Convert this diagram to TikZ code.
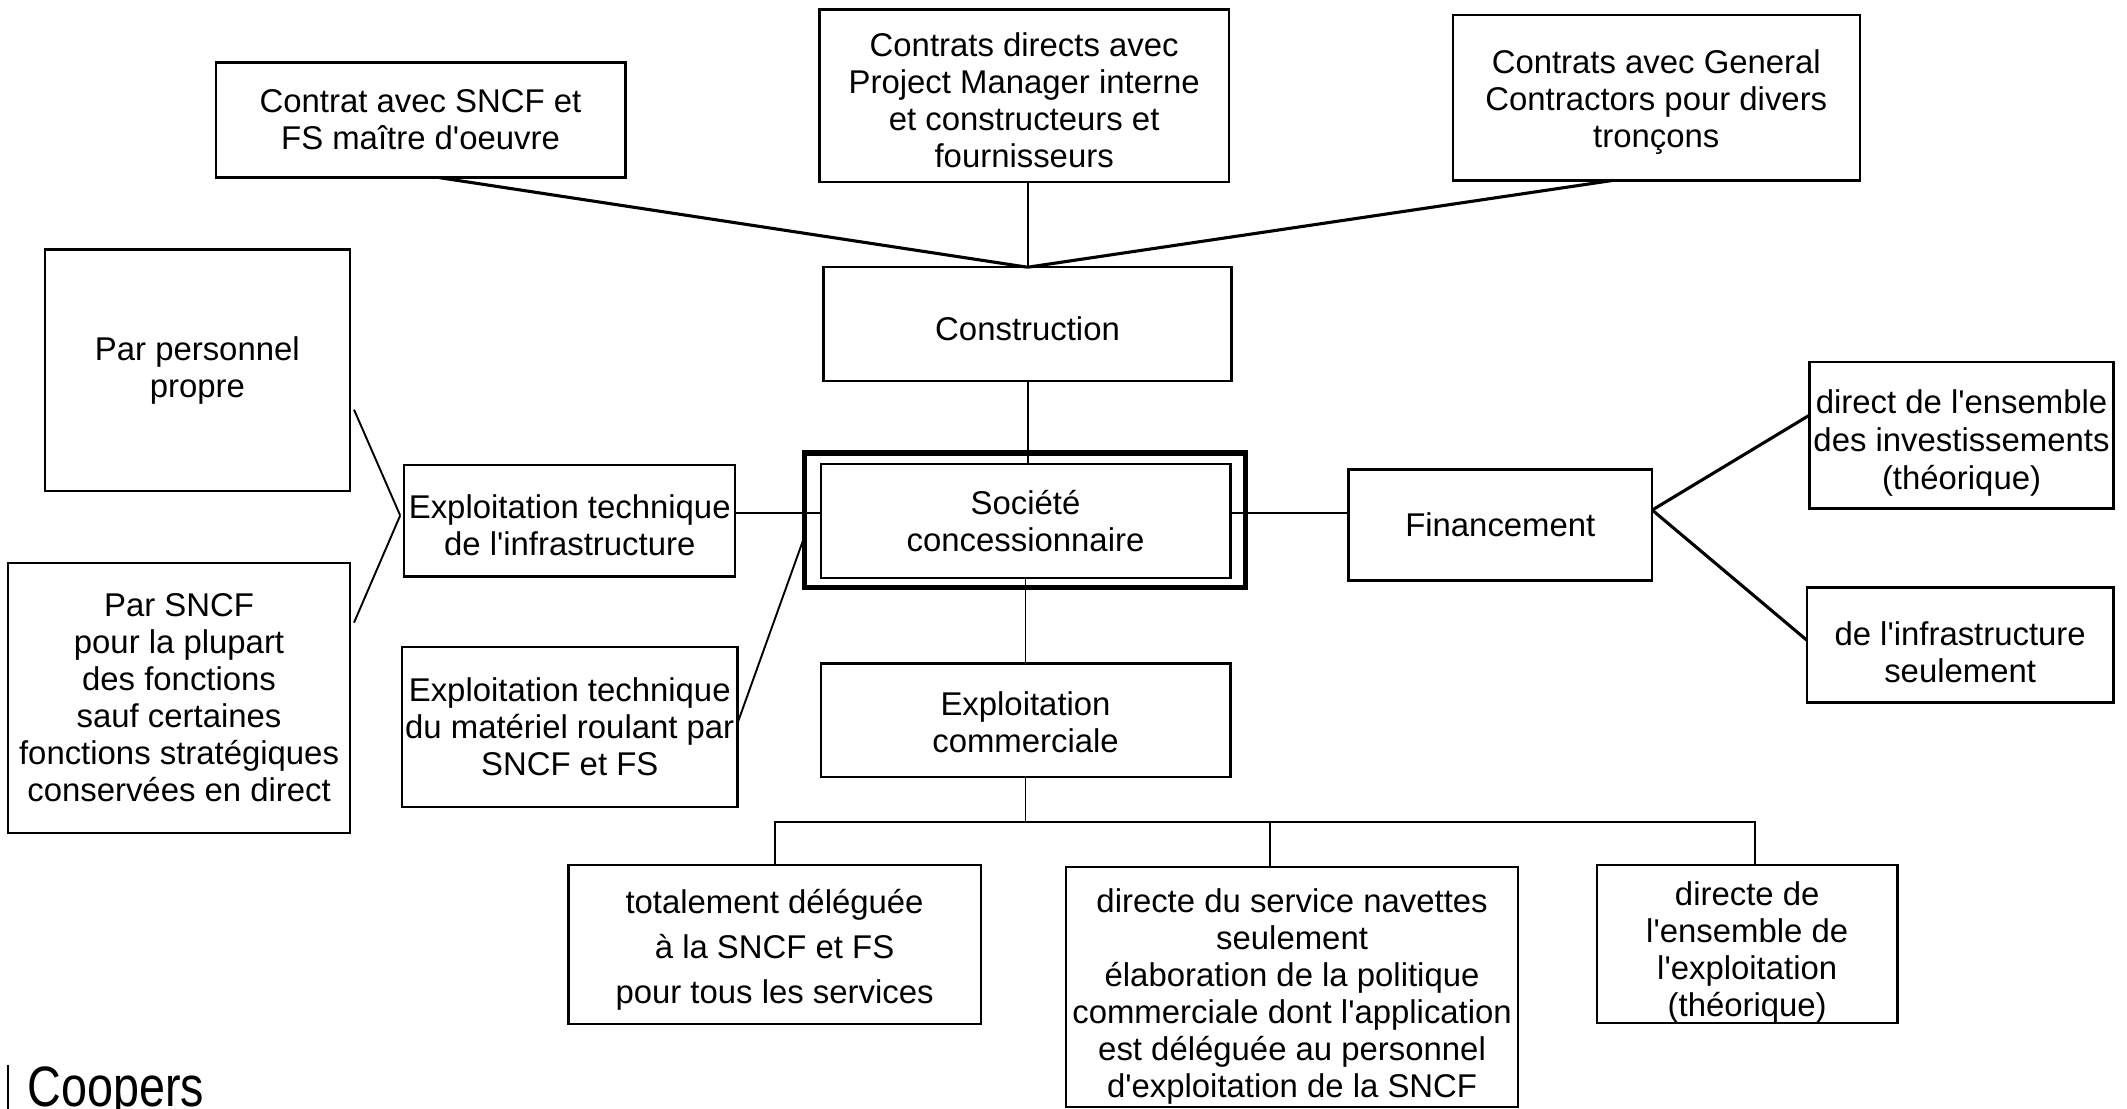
\documentclass[tikz,border=0pt]{standalone}
\usepackage{fontspec}
\setmainfont{Liberation Sans}[Ligatures=TeXOff]
\usepackage{graphicx}
\usetikzlibrary{calc}
\newcommand\bxstrut[1]{\rule{0pt}{#1}}
\begin{document}
\begin{tikzpicture}[x=0.02cm,y=-0.02cm,
  box/.style={draw, line width=1pt, inner sep=0pt, outer sep=0pt, align=center,
    font=\fontsize{13.8pt}{15.5pt}\selectfont},
  conn/.style={line width=0.8pt},
  heavyconn/.style={line width=1.3pt},
  frame/.style={draw, line width=2.3pt, inner sep=0pt, outer sep=0pt}]
\fill[white] (0,0) rectangle (1568,817);
\useasboundingbox (0,0) rectangle (1568,817);

% top row
\node[box, minimum width=6.04cm, minimum height=1.70cm] (A) at (310,88.5) {Contrat avec SNCF et\\FS maître d'oeuvre};
\node[box, minimum width=6.04cm, minimum height=2.54cm] (B) at (755,70.5) {\bxstrut{14pt}Contrats directs avec\\Project Manager interne\\et constructeurs et\\fournisseurs};
\node[box, minimum width=6.00cm, minimum height=2.44cm] (C) at (1221,72) {\bxstrut{14pt}Contrats avec General\\Contractors pour divers\\tronçons};

\node[box, minimum width=6.02cm, minimum height=1.68cm] (cons) at (757.5,239) {\bxstrut{13.4pt}Construction};

% left
\node[box, minimum width=4.50cm, minimum height=3.56cm] (perso) at (145.5,273) {Par personnel\\propre};
\node[box, minimum width=5.04cm, minimum height=3.98cm] (sncf) at (132,514.5) {Par SNCF\\pour la plupart\\des fonctions\\sauf certaines\\fonctions stratégiques\\conservées en direct};
\node[box, minimum width=4.88cm, minimum height=1.64cm] (infra) at (420,384) {\bxstrut{13.4pt}Exploitation technique\\de l'infrastructure};
\node[box, minimum width=4.95cm, minimum height=2.36cm] (mat) at (420,536) {Exploitation technique\\du matériel roulant par\\SNCF et FS};

% centre
\node[frame, minimum width=6.50cm, minimum height=1.98cm] (socframe) at (755.5,383.5) {};
\node[box, minimum width=6.04cm, minimum height=1.68cm] (soc) at (756,384) {Société\\concessionnaire};
\node[box, minimum width=6.04cm, minimum height=1.68cm] (comm) at (756,531) {\bxstrut{12pt}Exploitation\\commerciale};

% right
\node[box, minimum width=4.48cm, minimum height=1.64cm] (fin) at (1106,387) {Financement};
\node[box, minimum width=4.48cm, minimum height=2.16cm, font=\fontsize{13.8pt}{15.9pt}\selectfont] (dir) at (1446,321) {\bxstrut{16.5pt}direct de l'ensemble\\des investissements\\(théorique)};
\node[box, minimum width=4.52cm, minimum height=1.70cm] (dinf) at (1445,475.5) {\bxstrut{16.3pt}de l'infrastructure\\seulement};

% bottom
\node[box, minimum width=6.08cm, minimum height=2.35cm, font=\fontsize{13.8pt}{18.8pt}\selectfont] (tot) at (571,696.3) {\bxstrut{14.6pt}totalement déléguée\\à la SNCF et FS\\pour tous les services};
\node[box, minimum width=6.66cm, minimum height=3.54cm] (nav) at (952.5,727.5) {\bxstrut{18pt}directe du service navettes\\seulement\\élaboration de la politique\\commerciale dont l'application\\est déléguée au personnel\\d'exploitation de la SNCF};
\node[box, minimum width=4.43cm, minimum height=2.19cm] (dirx) at (1288,696) {\bxstrut{16.8pt}directe de\\l'ensemble de\\l'exploitation\\(théorique)};

% logo
\node[anchor=base west, inner sep=0pt, font=\fontsize{23.9pt}{24pt}\selectfont] (coopers) at (20,816) {\scalebox{0.82}[1]{Coopers}};
\draw[line width=0.6pt] (6,785) -- (6,820);

% connectors
\coordinate (midrow) at (0,378);
\coordinate (bus) at (0,606);
\coordinate (busR) at (1294,606);
\coordinate (busN) at (936,606);
\coordinate (lf) at ($(infra.west)+(-3,-4)$);
\coordinate (rf) at ($(fin.east)+(0,-11)$);

\draw[heavyconn] ($(A.south)+(14,0)$) -- (cons.north);
\draw[conn] (B.south -| cons.north) -- (cons.north);
\draw[heavyconn] ($(C.south)+(-32,0)$) -- (cons.north);
\draw[conn] (cons.south) -- (cons.south |- soc.north);
\draw[conn] (soc.south) -- (comm.north);
\draw[conn] (infra.east |- midrow) -- (soc.west |- midrow);
\draw[conn] (soc.east |- midrow) -- (fin.west |- midrow);
\draw[conn] (lf) -- ($(perso.east)+(3,29)$);
\draw[conn] (lf) -- ($(sncf.east)+(3,-55.5)$);
\draw[conn] ($(socframe.west)+(0,12)$) -- ($(mat.east)+(0,-3)$);
\draw[heavyconn] (rf) -- ($(dir.west)+(0,-15)$);
\draw[heavyconn] (rf) -- ($(dinf.west)+(0,-3.5)$);
\draw[conn] (comm.south) -- (comm.south |- bus);
\draw[conn] (tot.north) |- (busR) -- (busR |- dirx.north);
\draw[conn] (busN) -- (busN |- nav.north);
\end{tikzpicture}
\end{document}
